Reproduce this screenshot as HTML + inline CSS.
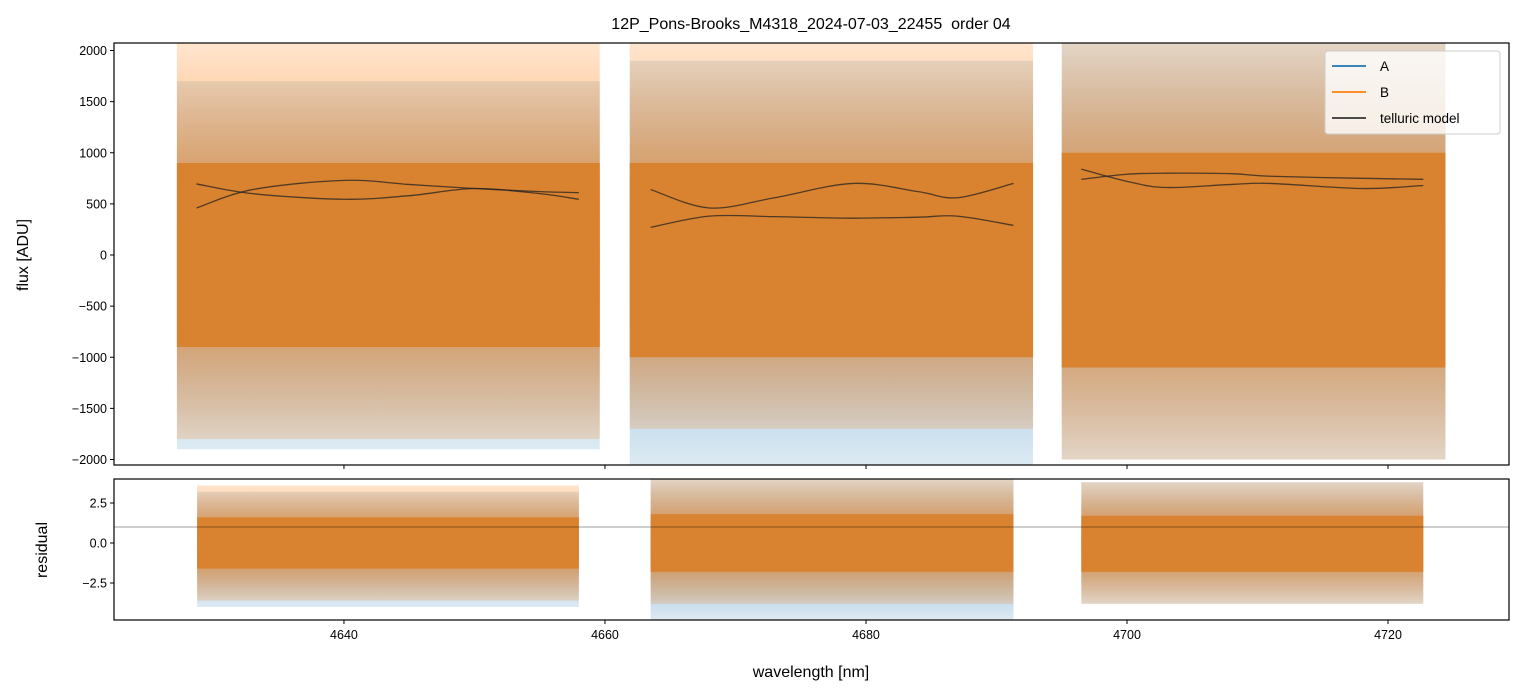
<!DOCTYPE html>
<html><head><meta charset="utf-8">
<style>
html,body{margin:0;padding:0;background:#fff;}
svg{display:block;font-family:"Liberation Sans","DejaVu Sans",sans-serif;}
</style></head>
<body>
<svg id="chart" width="1523" height="696" viewBox="0 0 1523 696" xmlns="http://www.w3.org/2000/svg">
<defs>
<linearGradient id="gAUp" x1="0" y1="0" x2="0" y2="1"><stop offset="0" stop-color="#1f77b4" stop-opacity="0.15"/><stop offset="1" stop-color="#1f77b4" stop-opacity="0.6"/></linearGradient>
<linearGradient id="gADn" x1="0" y1="0" x2="0" y2="1"><stop offset="0" stop-color="#1f77b4" stop-opacity="0.6"/><stop offset="1" stop-color="#1f77b4" stop-opacity="0.15"/></linearGradient>
<linearGradient id="gBUp" x1="0" y1="0" x2="0" y2="1"><stop offset="0" stop-color="#ff7f0e" stop-opacity="0.2"/><stop offset="1" stop-color="#ff7f0e" stop-opacity="0.8"/></linearGradient>
<linearGradient id="gBDn" x1="0" y1="0" x2="0" y2="1"><stop offset="0" stop-color="#ff7f0e" stop-opacity="0.8"/><stop offset="1" stop-color="#ff7f0e" stop-opacity="0.2"/></linearGradient>
</defs>
<text x="811" y="29" text-anchor="middle" font-size="16" fill="#000">12P_Pons-Brooks_M4318_2024-07-03_22455&#160; order 04</text>
<g id="topG"></g>
<g id="botG"></g>
<text transform="translate(28,255) rotate(-90)" text-anchor="middle" font-size="16">flux [ADU]</text>
<text transform="translate(47,550) rotate(-90)" text-anchor="middle" font-size="16">residual</text>
<text x="811" y="677" text-anchor="middle" font-size="16">wavelength [nm]</text>
<g>
<rect x="1325" y="51" width="175" height="83" rx="3" fill="#fff" fill-opacity="0.8" stroke="#ccc"/>
<line x1="1332" y1="66" x2="1366" y2="66" stroke="#1f77b4" stroke-width="1.8"/>
<text x="1380" y="71" font-size="13.5">A</text>
<line x1="1332" y1="92" x2="1366" y2="92" stroke="#ff7f0e" stroke-width="1.8"/>
<text x="1380" y="97" font-size="13.5">B</text>
<line x1="1332" y1="118" x2="1366" y2="118" stroke="#333" stroke-width="1.8"/>
<text x="1380" y="123" font-size="13.5">telluric model</text>
</g>
</svg>
<script>
// ---- data ----
const segStart = [4627.2, 4661.9, 4695.0];
const segEnd = [4659.6, 4692.8, 4724.4];
const resStart = [4628.75, 4663.5, 4696.5];
const resEnd = [4658.0, 4691.3, 4722.7];
const aOuterHi = [1700, 1900, 2070];
const aOuterLo = [-1900, -2070, -2000];
const bOuterHi = [2070, 2070, 2070];
const bOuterLo = [-1800, -1700, -2000];
const bCoreHi = [900, 900, 1000];
const bCoreLo = [-900, -1000, -1100];
const rAOuterHi = [3.2, 4.0, 3.8];
const rAOuterLo = [-4.0, -4.8, -3.8];
const rBOuterHi = [3.6, 4.0, 3.8];
const rBOuterLo = [-3.6, -3.8, -3.8];
const rCoreHi = [1.6, 1.8, 1.7];
const rCoreLo = [-1.6, -1.8, -1.8];
const tellWl = [
  [4628.7, 4633, 4640, 4645, 4650, 4655, 4658],
  [4663.5, 4668, 4673, 4679, 4684, 4687, 4691.3],
  [4696.5, 4700, 4703, 4708, 4711, 4718, 4722.7]
];
const tellA = [
  [695, 600, 545, 580, 650, 600, 545],
  [640, 460, 560, 700, 620, 560, 700],
  [840, 720, 660, 690, 700, 650, 680]
];
const tellB = [
  [460, 640, 730, 690, 650, 620, 610],
  [270, 380, 375, 360, 370, 380, 290],
  [740, 790, 800, 795, 770, 750, 740]
];
const xTicks = [4640, 4660, 4680, 4700, 4720];
const yTicksTop = [-2000, -1500, -1000, -500, 0, 500, 1000, 1500, 2000];
const yTicksBot = [-2.5, 0.0, 2.5];
const resLine = 1.0;

// ---- scales ----
const L = 114, R = 1509;
const T1 = 43, B1 = 465, T2 = 479, B2 = 620;
const xMin = 4622.38, xMax = 4729.27;
const x = w => L + (w - xMin) / (xMax - xMin) * (R - L);
const yT = v => 255 - v * 0.10225;
const yB = v => 543 - v * 16;
const NS = 'http://www.w3.org/2000/svg';
function mk(tag, attrs, parent) {
  const e = document.createElementNS(NS, tag);
  for (const k in attrs) e.setAttribute(k, attrs[k]);
  parent.appendChild(e);
  return e;
}
const topG = document.getElementById('topG');
const botG = document.getElementById('botG');
function clip(id, y0, y1) {
  const d = mk('defs', {}, document.getElementById('chart'));
  const c = mk('clipPath', {id: id}, d);
  mk('rect', {x: L, y: y0, width: R - L, height: y1 - y0}, c);
}
clip('c1', T1, B1); clip('c2', T2, B2);
const g1 = mk('g', {'clip-path': 'url(#c1)'}, topG);
const g2 = mk('g', {'clip-path': 'url(#c2)'}, botG);

function rectBand(g, x0, x1, hi, lo, y, fill, name) {
  const r = mk('rect', {x: x(x0), y: y(hi), width: x(x1) - x(x0), height: Math.max(0, y(lo) - y(hi)), fill: fill}, g);
  
  
}
function outer(g, x0, x1, hi, lo, mid, y, up, dn, name) {
  rectBand(g, x0, x1, hi, mid, y, 'url(#' + up + ')', name + '-upper');
  rectBand(g, x0, x1, -mid, lo, y, 'url(#' + dn + ')', name + '-lower');
}
for (let i = 0; i < 3; i++) {
  outer(g1, segStart[i], segEnd[i], aOuterHi[i], aOuterLo[i], 0, yT, 'gAUp', 'gADn', 'series-a-seg' + (i + 1));
  outer(g1, segStart[i], segEnd[i], bOuterHi[i], bOuterLo[i], 0, yT, 'gBUp', 'gBDn', 'series-b-seg' + (i + 1));
  rectBand(g1, segStart[i], segEnd[i], bCoreHi[i], bCoreLo[i], yT, '#d9822f', 'series-core-seg' + (i + 1));
  outer(g2, resStart[i], resEnd[i], rAOuterHi[i], rAOuterLo[i], 0, yB, 'gAUp', 'gADn', 'residual-a-seg' + (i + 1));
  outer(g2, resStart[i], resEnd[i], rBOuterHi[i], rBOuterLo[i], 0, yB, 'gBUp', 'gBDn', 'residual-b-seg' + (i + 1));
  rectBand(g2, resStart[i], resEnd[i], rCoreHi[i], rCoreLo[i], yB, '#d9822f', 'residual-core-seg' + (i + 1));
}
function smooth(pts) {
  let d = 'M' + pts[0][0] + ',' + pts[0][1];
  for (let i = 0; i < pts.length - 1; i++) {
    const p0 = pts[Math.max(0, i - 1)], p1 = pts[i], p2 = pts[i + 1], p3 = pts[Math.min(pts.length - 1, i + 2)];
    const c1 = [p1[0] + (p2[0] - p0[0]) / 6, p1[1] + (p2[1] - p0[1]) / 6];
    const c2 = [p2[0] - (p3[0] - p1[0]) / 6, p2[1] - (p3[1] - p1[1]) / 6];
    d += 'C' + c1 + ' ' + c2 + ' ' + p2;
  }
  return d;
}
for (let i = 0; i < 3; i++) {
  [tellA, tellB].forEach((arr, j) => {
    const pts = tellWl[i].map((w, k) => [x(w), yT(arr[i][k])]);
    const p = mk('path', {d: smooth(pts), fill: 'none', stroke: '#222', 'stroke-opacity': 0.75, 'stroke-width': 1.3}, g1);
    
    
  });
}
const rl = mk('line', {x1: L, x2: R, y1: yB(resLine), y2: yB(resLine), stroke: '#000', 'stroke-opacity': 0.5, 'stroke-width': 0.8}, botG);



[[T1, B1, topG, 'flux-axes-frame'], [T2, B2, botG, 'residual-axes-frame']].forEach(f => {
  const r = mk('rect', {x: L, y: f[0], width: R - L, height: f[1] - f[0], fill: 'none', stroke: '#000', 'stroke-width': 1.2}, f[2]);
  
  
});
xTicks.forEach(v => {
  [[B1, topG], [B2, botG]].forEach(b => {
    const t = mk('line', {x1: x(v), x2: x(v), y1: b[0], y2: b[0] + 4, stroke: '#000'}, b[1]);
    
    
  });
  const l = mk('text', {x: x(v), y: B2 + 19, 'text-anchor': 'middle', 'font-size': 12.5}, botG);
  l.textContent = v;
  
  
});
yTicksTop.forEach(v => {
  const t = mk('line', {x1: L - 4, x2: L, y1: yT(v), y2: yT(v), stroke: '#000'}, topG);
  
  
  const l = mk('text', {x: L - 7, y: yT(v) + 4.5, 'text-anchor': 'end', 'font-size': 12.5}, topG);
  l.textContent = v < 0 ? '\u2212' + (-v) : v;
  
  
});
yTicksBot.forEach(v => {
  const t = mk('line', {x1: L - 4, x2: L, y1: yB(v), y2: yB(v), stroke: '#000'}, botG);
  
  
  const l = mk('text', {x: L - 7, y: yB(v) + 4.5, 'text-anchor': 'end', 'font-size': 12.5}, botG);
  l.textContent = v < 0 ? '\u2212' + (-v).toFixed(1) : v.toFixed(1);
  
  
});
</script>
</body></html>
